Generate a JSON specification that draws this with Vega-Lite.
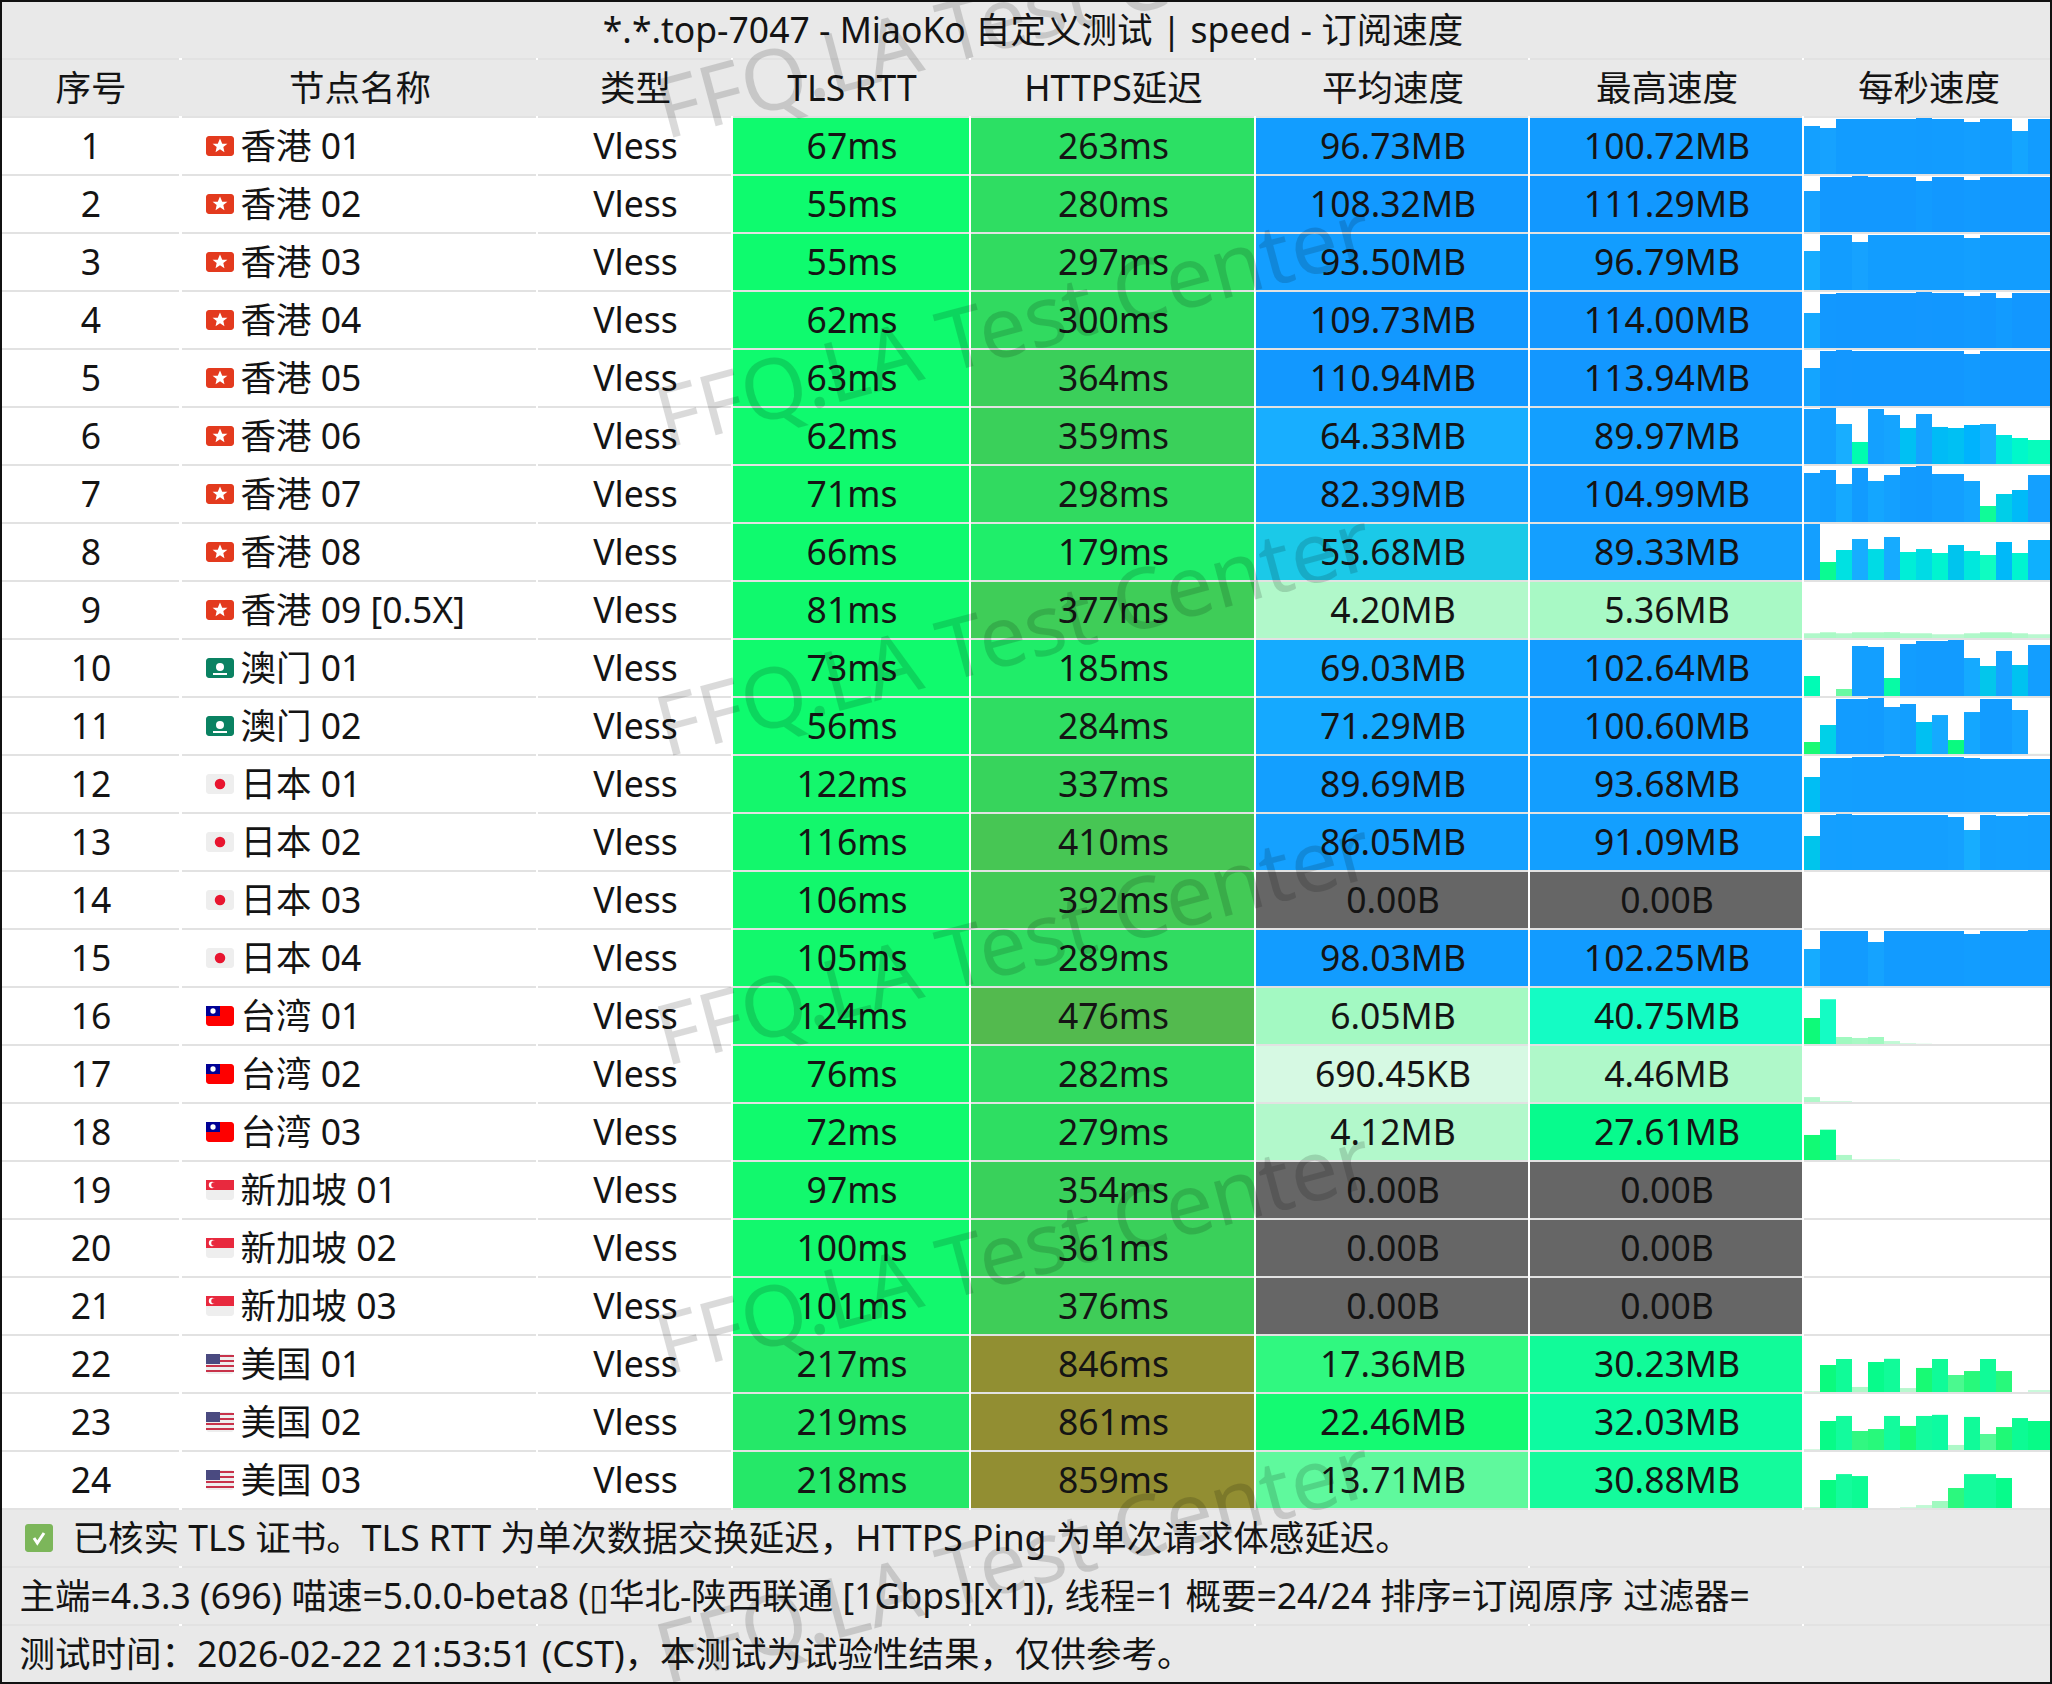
{
  "$schema": "https://vega.github.io/schema/vega-lite/v6.json",
  "description": "MiaoKo speed test table for 24 nodes, with a per-second bar strip for each node.",
  "width": 2052,
  "height": 1684,
  "padding": 0,
  "autosize": {"type": "none"},
  "background": "white",
  "config": {
    "view": {"stroke": null},
    "text": {"font": "Noto Sans, Noto Sans CJK SC", "fontSize": 35.5, "color": "#141414", "dy": 2, "dx": 1}
  },
  "datasets": {
    "table": [
      {"row": "title", "title": "*.*.top-7047 - MiaoKo 自定义测试 | speed - 订阅速度"},
      {"row": "header", "no": "序号", "nameText": "节点名称", "typeText": "类型", "tlsText": "TLS RTT", "httpsText": "HTTPS延迟", "avgText": "平均速度", "maxText": "最高速度", "perSec": "每秒速度"},
      {"row": "1", "no": "1", "country": "HK", "nameText": "香港 01", "typeText": "Vless", "tls": 67, "tlsText": "67ms", "https": 263, "httpsText": "263ms", "avg": 96.73, "avgText": "96.73MB", "max": 100.72, "maxText": "100.72MB"},
      {"row": "2", "no": "2", "country": "HK", "nameText": "香港 02", "typeText": "Vless", "tls": 55, "tlsText": "55ms", "https": 280, "httpsText": "280ms", "avg": 108.32, "avgText": "108.32MB", "max": 111.29, "maxText": "111.29MB"},
      {"row": "3", "no": "3", "country": "HK", "nameText": "香港 03", "typeText": "Vless", "tls": 55, "tlsText": "55ms", "https": 297, "httpsText": "297ms", "avg": 93.5, "avgText": "93.50MB", "max": 96.79, "maxText": "96.79MB"},
      {"row": "4", "no": "4", "country": "HK", "nameText": "香港 04", "typeText": "Vless", "tls": 62, "tlsText": "62ms", "https": 300, "httpsText": "300ms", "avg": 109.73, "avgText": "109.73MB", "max": 114, "maxText": "114.00MB"},
      {"row": "5", "no": "5", "country": "HK", "nameText": "香港 05", "typeText": "Vless", "tls": 63, "tlsText": "63ms", "https": 364, "httpsText": "364ms", "avg": 110.94, "avgText": "110.94MB", "max": 113.94, "maxText": "113.94MB"},
      {"row": "6", "no": "6", "country": "HK", "nameText": "香港 06", "typeText": "Vless", "tls": 62, "tlsText": "62ms", "https": 359, "httpsText": "359ms", "avg": 64.33, "avgText": "64.33MB", "max": 89.97, "maxText": "89.97MB"},
      {"row": "7", "no": "7", "country": "HK", "nameText": "香港 07", "typeText": "Vless", "tls": 71, "tlsText": "71ms", "https": 298, "httpsText": "298ms", "avg": 82.39, "avgText": "82.39MB", "max": 104.99, "maxText": "104.99MB"},
      {"row": "8", "no": "8", "country": "HK", "nameText": "香港 08", "typeText": "Vless", "tls": 66, "tlsText": "66ms", "https": 179, "httpsText": "179ms", "avg": 53.68, "avgText": "53.68MB", "max": 89.33, "maxText": "89.33MB"},
      {"row": "9", "no": "9", "country": "HK", "nameText": "香港 09 [0.5X]", "typeText": "Vless", "tls": 81, "tlsText": "81ms", "https": 377, "httpsText": "377ms", "avg": 4.2, "avgText": "4.20MB", "max": 5.36, "maxText": "5.36MB"},
      {"row": "10", "no": "10", "country": "MO", "nameText": "澳门 01", "typeText": "Vless", "tls": 73, "tlsText": "73ms", "https": 185, "httpsText": "185ms", "avg": 69.03, "avgText": "69.03MB", "max": 102.64, "maxText": "102.64MB"},
      {"row": "11", "no": "11", "country": "MO", "nameText": "澳门 02", "typeText": "Vless", "tls": 56, "tlsText": "56ms", "https": 284, "httpsText": "284ms", "avg": 71.29, "avgText": "71.29MB", "max": 100.6, "maxText": "100.60MB"},
      {"row": "12", "no": "12", "country": "JP", "nameText": "日本 01", "typeText": "Vless", "tls": 122, "tlsText": "122ms", "https": 337, "httpsText": "337ms", "avg": 89.69, "avgText": "89.69MB", "max": 93.68, "maxText": "93.68MB"},
      {"row": "13", "no": "13", "country": "JP", "nameText": "日本 02", "typeText": "Vless", "tls": 116, "tlsText": "116ms", "https": 410, "httpsText": "410ms", "avg": 86.05, "avgText": "86.05MB", "max": 91.09, "maxText": "91.09MB"},
      {"row": "14", "no": "14", "country": "JP", "nameText": "日本 03", "typeText": "Vless", "tls": 106, "tlsText": "106ms", "https": 392, "httpsText": "392ms", "avg": 0, "avgText": "0.00B", "max": 0, "maxText": "0.00B"},
      {"row": "15", "no": "15", "country": "JP", "nameText": "日本 04", "typeText": "Vless", "tls": 105, "tlsText": "105ms", "https": 289, "httpsText": "289ms", "avg": 98.03, "avgText": "98.03MB", "max": 102.25, "maxText": "102.25MB"},
      {"row": "16", "no": "16", "country": "TW", "nameText": "台湾 01", "typeText": "Vless", "tls": 124, "tlsText": "124ms", "https": 476, "httpsText": "476ms", "avg": 6.05, "avgText": "6.05MB", "max": 40.75, "maxText": "40.75MB"},
      {"row": "17", "no": "17", "country": "TW", "nameText": "台湾 02", "typeText": "Vless", "tls": 76, "tlsText": "76ms", "https": 282, "httpsText": "282ms", "avg": 0.67, "avgText": "690.45KB", "max": 4.46, "maxText": "4.46MB"},
      {"row": "18", "no": "18", "country": "TW", "nameText": "台湾 03", "typeText": "Vless", "tls": 72, "tlsText": "72ms", "https": 279, "httpsText": "279ms", "avg": 4.12, "avgText": "4.12MB", "max": 27.61, "maxText": "27.61MB"},
      {"row": "19", "no": "19", "country": "SG", "nameText": "新加坡 01", "typeText": "Vless", "tls": 97, "tlsText": "97ms", "https": 354, "httpsText": "354ms", "avg": 0, "avgText": "0.00B", "max": 0, "maxText": "0.00B"},
      {"row": "20", "no": "20", "country": "SG", "nameText": "新加坡 02", "typeText": "Vless", "tls": 100, "tlsText": "100ms", "https": 361, "httpsText": "361ms", "avg": 0, "avgText": "0.00B", "max": 0, "maxText": "0.00B"},
      {"row": "21", "no": "21", "country": "SG", "nameText": "新加坡 03", "typeText": "Vless", "tls": 101, "tlsText": "101ms", "https": 376, "httpsText": "376ms", "avg": 0, "avgText": "0.00B", "max": 0, "maxText": "0.00B"},
      {"row": "22", "no": "22", "country": "US", "nameText": "美国 01", "typeText": "Vless", "tls": 217, "tlsText": "217ms", "https": 846, "httpsText": "846ms", "avg": 17.36, "avgText": "17.36MB", "max": 30.23, "maxText": "30.23MB"},
      {"row": "23", "no": "23", "country": "US", "nameText": "美国 02", "typeText": "Vless", "tls": 219, "tlsText": "219ms", "https": 861, "httpsText": "861ms", "avg": 22.46, "avgText": "22.46MB", "max": 32.03, "maxText": "32.03MB"},
      {"row": "24", "no": "24", "country": "US", "nameText": "美国 03", "typeText": "Vless", "tls": 218, "tlsText": "218ms", "https": 859, "httpsText": "859ms", "avg": 13.71, "avgText": "13.71MB", "max": 30.88, "maxText": "30.88MB"},
      {"row": "f1", "check": true, "foot1": "已核实 TLS 证书。TLS RTT 为单次数据交换延迟，HTTPS Ping 为单次请求体感延迟。"},
      {"row": "f2", "foot": "主端=4.3.3 (696) 喵速=5.0.0-beta8 (▯华北-陕西联通 [1Gbps][x1]), 线程=1 概要=24/24 排序=订阅原序 过滤器="},
      {"row": "f3", "foot": "测试时间：2026-02-22 21:53:51 (CST)，本测试为试验性结果，仅供参考。"}
    ],
    "bars": [
      {"row":"1","sec":1,"speed":86.3},{"row":"1","sec":2,"speed":82.7},{"row":"1","sec":3,"speed":98.9},{"row":"1","sec":4,"speed":98.9},{"row":"1","sec":5,"speed":98.9},{"row":"1","sec":6,"speed":98.9},{"row":"1","sec":7,"speed":98.9},{"row":"1","sec":8,"speed":100.7},{"row":"1","sec":9,"speed":98.9},{"row":"1","sec":10,"speed":98.9},{"row":"1","sec":11,"speed":93.5},{"row":"1","sec":12,"speed":98.9},{"row":"1","sec":13,"speed":98.9},{"row":"1","sec":14,"speed":77.3},{"row":"1","sec":15,"speed":98.9},{"row":"1","sec":16,"speed":98.9},
      {"row":"2","sec":1,"speed":81.5},{"row":"2","sec":2,"speed":109.3},{"row":"2","sec":3,"speed":109.3},{"row":"2","sec":4,"speed":111.3},{"row":"2","sec":5,"speed":109.3},{"row":"2","sec":6,"speed":109.3},{"row":"2","sec":7,"speed":109.3},{"row":"2","sec":8,"speed":101.3},{"row":"2","sec":9,"speed":109.3},{"row":"2","sec":10,"speed":109.3},{"row":"2","sec":11,"speed":103.3},{"row":"2","sec":12,"speed":109.3},{"row":"2","sec":13,"speed":109.3},{"row":"2","sec":14,"speed":109.3},{"row":"2","sec":15,"speed":109.3},{"row":"2","sec":16,"speed":109.3},
      {"row":"3","sec":1,"speed":67.4},{"row":"3","sec":2,"speed":95.1},{"row":"3","sec":3,"speed":95.1},{"row":"3","sec":4,"speed":83},{"row":"3","sec":5,"speed":95.1},{"row":"3","sec":6,"speed":95.1},{"row":"3","sec":7,"speed":95.1},{"row":"3","sec":8,"speed":95.1},{"row":"3","sec":9,"speed":95.1},{"row":"3","sec":10,"speed":95.1},{"row":"3","sec":11,"speed":89.9},{"row":"3","sec":12,"speed":95.1},{"row":"3","sec":13,"speed":95.1},{"row":"3","sec":14,"speed":95.1},{"row":"3","sec":15,"speed":95.1},{"row":"3","sec":16,"speed":95.1},
      {"row":"4","sec":1,"speed":71.3},{"row":"4","sec":2,"speed":109.9},{"row":"4","sec":3,"speed":112},{"row":"4","sec":4,"speed":112},{"row":"4","sec":5,"speed":112},{"row":"4","sec":6,"speed":112},{"row":"4","sec":7,"speed":112},{"row":"4","sec":8,"speed":114},{"row":"4","sec":9,"speed":112},{"row":"4","sec":10,"speed":112},{"row":"4","sec":11,"speed":105.9},{"row":"4","sec":12,"speed":112},{"row":"4","sec":13,"speed":101.8},{"row":"4","sec":14,"speed":112},{"row":"4","sec":15,"speed":112},{"row":"4","sec":16,"speed":112},
      {"row":"5","sec":1,"speed":77.3},{"row":"5","sec":2,"speed":111.9},{"row":"5","sec":3,"speed":113.9},{"row":"5","sec":4,"speed":111.9},{"row":"5","sec":5,"speed":111.9},{"row":"5","sec":6,"speed":111.9},{"row":"5","sec":7,"speed":111.9},{"row":"5","sec":8,"speed":111.9},{"row":"5","sec":9,"speed":111.9},{"row":"5","sec":10,"speed":111.9},{"row":"5","sec":11,"speed":105.8},{"row":"5","sec":12,"speed":111.9},{"row":"5","sec":13,"speed":111.9},{"row":"5","sec":14,"speed":111.9},{"row":"5","sec":15,"speed":111.9},{"row":"5","sec":16,"speed":111.9},
      {"row":"6","sec":1,"speed":88.4},{"row":"6","sec":2,"speed":90},{"row":"6","sec":3,"speed":64.3},{"row":"6","sec":4,"speed":35.4},{"row":"6","sec":5,"speed":88.4},{"row":"6","sec":6,"speed":78.7},{"row":"6","sec":7,"speed":57.8},{"row":"6","sec":8,"speed":80.3},{"row":"6","sec":9,"speed":59.5},{"row":"6","sec":10,"speed":57.8},{"row":"6","sec":11,"speed":62.7},{"row":"6","sec":12,"speed":64.3},{"row":"6","sec":13,"speed":46.6},{"row":"6","sec":14,"speed":41.8},{"row":"6","sec":15,"speed":38.6},{"row":"6","sec":16,"speed":38.6},
      {"row":"7","sec":1,"speed":91.9},{"row":"7","sec":2,"speed":97.5},{"row":"7","sec":3,"speed":71.3},{"row":"7","sec":4,"speed":101.3},{"row":"7","sec":5,"speed":76.9},{"row":"7","sec":6,"speed":88.1},{"row":"7","sec":7,"speed":103.1},{"row":"7","sec":8,"speed":105},{"row":"7","sec":9,"speed":90},{"row":"7","sec":10,"speed":90},{"row":"7","sec":11,"speed":76.9},{"row":"7","sec":12,"speed":30},{"row":"7","sec":13,"speed":52.5},{"row":"7","sec":14,"speed":60},{"row":"7","sec":15,"speed":88.1},{"row":"7","sec":16,"speed":88.1},
      {"row":"8","sec":1,"speed":89.3},{"row":"8","sec":2,"speed":28.7},{"row":"8","sec":3,"speed":47.9},{"row":"8","sec":4,"speed":65.4},{"row":"8","sec":5,"speed":49.4},{"row":"8","sec":6,"speed":68.6},{"row":"8","sec":7,"speed":44.7},{"row":"8","sec":8,"speed":49.4},{"row":"8","sec":9,"speed":43.1},{"row":"8","sec":10,"speed":55.8},{"row":"8","sec":11,"speed":46.3},{"row":"8","sec":12,"speed":39.9},{"row":"8","sec":13,"speed":60.6},{"row":"8","sec":14,"speed":43.1},{"row":"8","sec":15,"speed":63.8},{"row":"8","sec":16,"speed":63.8},
      {"row":"9","sec":1,"speed":4.3},{"row":"9","sec":2,"speed":5.2},{"row":"9","sec":3,"speed":4.3},{"row":"9","sec":4,"speed":5.2},{"row":"9","sec":5,"speed":5.2},{"row":"9","sec":6,"speed":5.36},{"row":"9","sec":7,"speed":4.3},{"row":"9","sec":8,"speed":4.3},{"row":"9","sec":9,"speed":3.4},{"row":"9","sec":10,"speed":3.4},{"row":"9","sec":11,"speed":4.3},{"row":"9","sec":12,"speed":5.2},{"row":"9","sec":13,"speed":5.2},{"row":"9","sec":14,"speed":4.3},{"row":"9","sec":15,"speed":3.4},{"row":"9","sec":16,"speed":3.4},
      {"row":"10","sec":1,"speed":36.7},{"row":"10","sec":3,"speed":12.8},{"row":"10","sec":4,"speed":91.7},{"row":"10","sec":5,"speed":89.8},{"row":"10","sec":6,"speed":33},{"row":"10","sec":7,"speed":95.3},{"row":"10","sec":8,"speed":100.8},{"row":"10","sec":9,"speed":100.8},{"row":"10","sec":10,"speed":102.6},{"row":"10","sec":11,"speed":69.7},{"row":"10","sec":12,"speed":55},{"row":"10","sec":13,"speed":82.5},{"row":"10","sec":14,"speed":56.8},{"row":"10","sec":15,"speed":93.5},{"row":"10","sec":16,"speed":93.5},
      {"row":"11","sec":1,"speed":21.6},{"row":"11","sec":2,"speed":52.1},{"row":"11","sec":3,"speed":98.8},{"row":"11","sec":4,"speed":98.8},{"row":"11","sec":5,"speed":100.6},{"row":"11","sec":6,"speed":84.4},{"row":"11","sec":7,"speed":89.8},{"row":"11","sec":8,"speed":57.5},{"row":"11","sec":9,"speed":70},{"row":"11","sec":10,"speed":25.1},{"row":"11","sec":11,"speed":75.4},{"row":"11","sec":12,"speed":98.8},{"row":"11","sec":13,"speed":98.8},{"row":"11","sec":14,"speed":79},{"row":"11","sec":15,"speed":0.5},{"row":"11","sec":16,"speed":0.5},
      {"row":"12","sec":1,"speed":58.6},{"row":"12","sec":2,"speed":90.3},{"row":"12","sec":3,"speed":90.3},{"row":"12","sec":4,"speed":92},{"row":"12","sec":5,"speed":92},{"row":"12","sec":6,"speed":93.7},{"row":"12","sec":7,"speed":92},{"row":"12","sec":8,"speed":92},{"row":"12","sec":9,"speed":92},{"row":"12","sec":10,"speed":92},{"row":"12","sec":11,"speed":90.3},{"row":"12","sec":12,"speed":88.7},{"row":"12","sec":13,"speed":88.7},{"row":"12","sec":14,"speed":88.7},{"row":"12","sec":15,"speed":88.7},{"row":"12","sec":16,"speed":88.7},
      {"row":"13","sec":1,"speed":55.3},{"row":"13","sec":2,"speed":89.5},{"row":"13","sec":3,"speed":91.1},{"row":"13","sec":4,"speed":89.5},{"row":"13","sec":5,"speed":89.5},{"row":"13","sec":6,"speed":89.5},{"row":"13","sec":7,"speed":89.5},{"row":"13","sec":8,"speed":89.5},{"row":"13","sec":9,"speed":89.5},{"row":"13","sec":10,"speed":86.2},{"row":"13","sec":11,"speed":65.1},{"row":"13","sec":12,"speed":89.5},{"row":"13","sec":13,"speed":87.9},{"row":"13","sec":14,"speed":87.9},{"row":"13","sec":15,"speed":89.5},{"row":"13","sec":16,"speed":89.5},
      {"row":"15","sec":1,"speed":67.6},{"row":"15","sec":2,"speed":100.4},{"row":"15","sec":3,"speed":100.4},{"row":"15","sec":4,"speed":100.4},{"row":"15","sec":5,"speed":80.3},{"row":"15","sec":6,"speed":100.4},{"row":"15","sec":7,"speed":100.4},{"row":"15","sec":8,"speed":100.4},{"row":"15","sec":9,"speed":100.4},{"row":"15","sec":10,"speed":100.4},{"row":"15","sec":11,"speed":95},{"row":"15","sec":12,"speed":100.4},{"row":"15","sec":13,"speed":100.4},{"row":"15","sec":14,"speed":100.4},{"row":"15","sec":15,"speed":102.25},{"row":"15","sec":16,"speed":102.25},
      {"row":"16","sec":1,"speed":23.7},{"row":"16","sec":2,"speed":40.75},{"row":"16","sec":3,"speed":6.4},{"row":"16","sec":4,"speed":5.5},{"row":"16","sec":5,"speed":6.4},{"row":"16","sec":6,"speed":2.7},{"row":"16","sec":7,"speed":0.9},{"row":"16","sec":8,"speed":0.4},
      {"row":"17","sec":1,"speed":4.46},{"row":"17","sec":2,"speed":0.9},{"row":"17","sec":3,"speed":0.9},
      {"row":"18","sec":1,"speed":22.8},{"row":"18","sec":2,"speed":27.61},{"row":"18","sec":3,"speed":4.6},{"row":"18","sec":4,"speed":0.9},{"row":"18","sec":5,"speed":0.9},{"row":"18","sec":6,"speed":0.9},
      {"row":"22","sec":1,"speed":0.9},{"row":"22","sec":2,"speed":24.6},{"row":"22","sec":3,"speed":30.05},{"row":"22","sec":4,"speed":4.6},{"row":"22","sec":5,"speed":27.3},{"row":"22","sec":6,"speed":30.23},{"row":"22","sec":7,"speed":3.6},{"row":"22","sec":8,"speed":21.9},{"row":"22","sec":9,"speed":30.05},{"row":"22","sec":10,"speed":15.5},{"row":"22","sec":11,"speed":19.1},{"row":"22","sec":12,"speed":30.05},{"row":"22","sec":13,"speed":19.1},{"row":"22","sec":15,"speed":1.8},{"row":"22","sec":16,"speed":1.8},
      {"row":"23","sec":1,"speed":0.9},{"row":"23","sec":2,"speed":26.4},{"row":"23","sec":3,"speed":31},{"row":"23","sec":4,"speed":17.3},{"row":"23","sec":5,"speed":19.1},{"row":"23","sec":6,"speed":31},{"row":"23","sec":7,"speed":21.9},{"row":"23","sec":8,"speed":31},{"row":"23","sec":9,"speed":32.03},{"row":"23","sec":10,"speed":4.6},{"row":"23","sec":11,"speed":30.1},{"row":"23","sec":12,"speed":14.6},{"row":"23","sec":13,"speed":20.9},{"row":"23","sec":14,"speed":29.1},{"row":"23","sec":15,"speed":26.4},{"row":"23","sec":16,"speed":26.4},
      {"row":"24","sec":1,"speed":0.9},{"row":"24","sec":2,"speed":25.5},{"row":"24","sec":3,"speed":30.88},{"row":"24","sec":4,"speed":29.1},{"row":"24","sec":7,"speed":0.9},{"row":"24","sec":8,"speed":2.7},{"row":"24","sec":9,"speed":6.4},{"row":"24","sec":10,"speed":18.2},{"row":"24","sec":11,"speed":30.88},{"row":"24","sec":12,"speed":30.88},{"row":"24","sec":13,"speed":27.3}
    ],
    "watermark": [
      {"line": 1, "mark": "FFQ.LA Test Center"},
      {"line": 2, "mark": "FFQ.LA Test Center"},
      {"line": 3, "mark": "FFQ.LA Test Center"},
      {"line": 4, "mark": "FFQ.LA Test Center"},
      {"line": 5, "mark": "FFQ.LA Test Center"},
      {"line": 6, "mark": "FFQ.LA Test Center"}
    ]
  },
  "data": {"name": "table"},
  "encoding": {
    "y": {
      "field": "row",
      "type": "nominal",
      "axis": null,
      "scale": {
        "type": "band",
        "domain": ["title","header","1","2","3","4","5","6","7","8","9","10","11","12","13","14","15","16","17","18","19","20","21","22","23","24","f1","f2","f3"],
        "range": [2, 1682],
        "paddingInner": 0.0345,
        "paddingOuter": 0
      }
    }
  },
  "resolve": {"scale": {"x": "independent", "y": "independent", "color": "independent"}},
  "layer": [
    {"mark": {"type": "rect", "height": 58, "yOffset": 1, "color": "#e2e2e2"}, "encoding": {"x": {"datum": "a", "type": "nominal", "axis": null, "scale": {"type": "band", "domain": ["a"], "range": [0, 179], "padding": 0}}}},
    {"mark": {"type": "rect", "height": 58, "yOffset": 1, "color": "#e2e2e2"}, "encoding": {"x": {"datum": "a", "type": "nominal", "axis": null, "scale": {"type": "band", "domain": ["a"], "range": [182, 536], "padding": 0}}}},
    {"mark": {"type": "rect", "height": 58, "yOffset": 1, "color": "#e2e2e2"}, "encoding": {"x": {"datum": "a", "type": "nominal", "axis": null, "scale": {"type": "band", "domain": ["a"], "range": [538, 731], "padding": 0}}}},
    {"mark": {"type": "rect", "height": 58, "yOffset": 1, "color": "#e2e2e2"}, "encoding": {"x": {"datum": "a", "type": "nominal", "axis": null, "scale": {"type": "band", "domain": ["a"], "range": [733, 969], "padding": 0}}}},
    {"mark": {"type": "rect", "height": 58, "yOffset": 1, "color": "#e2e2e2"}, "encoding": {"x": {"datum": "a", "type": "nominal", "axis": null, "scale": {"type": "band", "domain": ["a"], "range": [971, 1254], "padding": 0}}}},
    {"mark": {"type": "rect", "height": 58, "yOffset": 1, "color": "#e2e2e2"}, "encoding": {"x": {"datum": "a", "type": "nominal", "axis": null, "scale": {"type": "band", "domain": ["a"], "range": [1256, 1528], "padding": 0}}}},
    {"mark": {"type": "rect", "height": 58, "yOffset": 1, "color": "#e2e2e2"}, "encoding": {"x": {"datum": "a", "type": "nominal", "axis": null, "scale": {"type": "band", "domain": ["a"], "range": [1530, 1802], "padding": 0}}}},
    {"mark": {"type": "rect", "height": 58, "yOffset": 1, "color": "#e2e2e2"}, "encoding": {"x": {"datum": "a", "type": "nominal", "axis": null, "scale": {"type": "band", "domain": ["a"], "range": [1804, 2052], "padding": 0}}}},
    {
      "transform": [{"filter": "!isValid(datum.tls)"}],
      "mark": {"type": "rect", "color": "#e9e9e9"},
      "encoding": {"x": {"datum": "a", "type": "nominal", "axis": null, "scale": {"type": "band", "domain": ["a"], "range": [0, 2052], "padding": 0}}}
    },
    {
      "transform": [{"filter": "isValid(datum.tls)"}],
      "mark": {"type": "rect", "color": "white"},
      "encoding": {"x": {"datum": "a", "type": "nominal", "axis": null, "scale": {"type": "band", "domain": ["a"], "range": [0, 2052], "padding": 0}}}
    },
    {
      "transform": [{"filter": "isValid(datum.tls)"}],
      "mark": {"type": "rect"},
      "encoding": {
        "x": {"datum": "a", "type": "nominal", "axis": null, "scale": {"type": "band", "domain": ["a"], "range": [733, 969], "padding": 0}},
        "color": {"field": "tls", "type": "quantitative", "legend": null, "scale": {"domain": [50, 120, 220, 300, 360, 476, 850], "range": ["#0efb6e", "#13f76c", "#25e868", "#31da60", "#3ad05a", "#53ba4e", "#918f32"]}}
      }
    },
    {
      "transform": [{"filter": "isValid(datum.https)"}],
      "mark": {"type": "rect"},
      "encoding": {
        "x": {"datum": "a", "type": "nominal", "axis": null, "scale": {"type": "band", "domain": ["a"], "range": [971, 1254], "padding": 0}},
        "color": {"field": "https", "type": "quantitative", "legend": null, "scale": {"domain": [50, 120, 220, 300, 360, 476, 850], "range": ["#0efb6e", "#13f76c", "#25e868", "#31da60", "#3ad05a", "#53ba4e", "#918f32"]}}
      }
    },
    {
      "transform": [{"filter": "isValid(datum.avg)"}],
      "mark": {"type": "rect"},
      "encoding": {
        "x": {"datum": "a", "type": "nominal", "axis": null, "scale": {"type": "band", "domain": ["a"], "range": [1256, 1528], "padding": 0}},
        "color": {"field": "avg", "type": "quantitative", "legend": null, "scale": {"domain": [0, 0.001, 0.67, 4.2, 6.05, 13.71, 17.36, 22.46, 30.88, 40.75, 53.68, 64.33, 82, 110], "range": ["#666666", "#e0fbe9", "#d6f9e3", "#b1f8ca", "#a3f9c2", "#5ff99d", "#30f880", "#14fa72", "#14fb9c", "#14fcc4", "#1bc9e8", "#18aeff", "#16a2ff", "#1298ff"]}}
      }
    },
    {
      "transform": [{"filter": "isValid(datum.max)"}],
      "mark": {"type": "rect"},
      "encoding": {
        "x": {"datum": "a", "type": "nominal", "axis": null, "scale": {"type": "band", "domain": ["a"], "range": [1530, 1802], "padding": 0}},
        "color": {"field": "max", "type": "quantitative", "legend": null, "scale": {"domain": [0, 0.001, 0.67, 4.2, 6.05, 13.71, 17.36, 22.46, 30.88, 40.75, 53.68, 64.33, 82, 110], "range": ["#666666", "#e0fbe9", "#d6f9e3", "#b1f8ca", "#a3f9c2", "#5ff99d", "#30f880", "#14fa72", "#14fb9c", "#14fcc4", "#1bc9e8", "#18aeff", "#16a2ff", "#1298ff"]}}
      }
    },
    {
      "data": {"name": "bars"},
      "encoding": {
        "x": {"field": "sec", "type": "ordinal", "axis": null, "scale": {"type": "band", "domain": [1,2,3,4,5,6,7,8,9,10,11,12,13,14,15,16], "range": [1804, 2060], "padding": 0}},
        "color": {"field": "speed", "type": "quantitative", "legend": null, "scale": {"domain": [0, 0.001, 0.67, 4.2, 6.05, 13.71, 17.36, 22.46, 30.88, 40.75, 53.68, 64.33, 82, 110], "range": ["#666666", "#e0fbe9", "#d6f9e3", "#b1f8ca", "#a3f9c2", "#5ff99d", "#30f880", "#14fa72", "#14fb9c", "#14fcc4", "#1bc9e8", "#18aeff", "#16a2ff", "#1298ff"]}}
      },
      "resolve": {"scale": {"y": "independent"}},
      "layer": [
        {"transform": [{"filter": "datum.row == '1'"}], "mark": {"type": "bar", "clip": true}, "encoding": {"y": {"field": "speed", "type": "quantitative", "stack": null, "axis": null, "scale": {"domain": [0, 100.72], "range": [174, 118]}}}},
        {"transform": [{"filter": "datum.row == '2'"}], "mark": {"type": "bar", "clip": true}, "encoding": {"y": {"field": "speed", "type": "quantitative", "stack": null, "axis": null, "scale": {"domain": [0, 111.29], "range": [232, 176]}}}},
        {"transform": [{"filter": "datum.row == '3'"}], "mark": {"type": "bar", "clip": true}, "encoding": {"y": {"field": "speed", "type": "quantitative", "stack": null, "axis": null, "scale": {"domain": [0, 96.79], "range": [290, 234]}}}},
        {"transform": [{"filter": "datum.row == '4'"}], "mark": {"type": "bar", "clip": true}, "encoding": {"y": {"field": "speed", "type": "quantitative", "stack": null, "axis": null, "scale": {"domain": [0, 114], "range": [348, 292]}}}},
        {"transform": [{"filter": "datum.row == '5'"}], "mark": {"type": "bar", "clip": true}, "encoding": {"y": {"field": "speed", "type": "quantitative", "stack": null, "axis": null, "scale": {"domain": [0, 113.94], "range": [406, 350]}}}},
        {"transform": [{"filter": "datum.row == '6'"}], "mark": {"type": "bar", "clip": true}, "encoding": {"y": {"field": "speed", "type": "quantitative", "stack": null, "axis": null, "scale": {"domain": [0, 89.97], "range": [464, 408]}}}},
        {"transform": [{"filter": "datum.row == '7'"}], "mark": {"type": "bar", "clip": true}, "encoding": {"y": {"field": "speed", "type": "quantitative", "stack": null, "axis": null, "scale": {"domain": [0, 104.99], "range": [522, 466]}}}},
        {"transform": [{"filter": "datum.row == '8'"}], "mark": {"type": "bar", "clip": true}, "encoding": {"y": {"field": "speed", "type": "quantitative", "stack": null, "axis": null, "scale": {"domain": [0, 89.33], "range": [580, 524]}}}},
        {"transform": [{"filter": "datum.row == '9'"}], "mark": {"type": "bar", "clip": true}, "encoding": {"y": {"field": "speed", "type": "quantitative", "stack": null, "axis": null, "scale": {"domain": [0, 51], "range": [638, 582]}}}},
        {"transform": [{"filter": "datum.row == '10'"}], "mark": {"type": "bar", "clip": true}, "encoding": {"y": {"field": "speed", "type": "quantitative", "stack": null, "axis": null, "scale": {"domain": [0, 102.64], "range": [696, 640]}}}},
        {"transform": [{"filter": "datum.row == '11'"}], "mark": {"type": "bar", "clip": true}, "encoding": {"y": {"field": "speed", "type": "quantitative", "stack": null, "axis": null, "scale": {"domain": [0, 100.6], "range": [754, 698]}}}},
        {"transform": [{"filter": "datum.row == '12'"}], "mark": {"type": "bar", "clip": true}, "encoding": {"y": {"field": "speed", "type": "quantitative", "stack": null, "axis": null, "scale": {"domain": [0, 93.68], "range": [812, 756]}}}},
        {"transform": [{"filter": "datum.row == '13'"}], "mark": {"type": "bar", "clip": true}, "encoding": {"y": {"field": "speed", "type": "quantitative", "stack": null, "axis": null, "scale": {"domain": [0, 91.09], "range": [870, 814]}}}},
        {"transform": [{"filter": "datum.row == '15'"}], "mark": {"type": "bar", "clip": true}, "encoding": {"y": {"field": "speed", "type": "quantitative", "stack": null, "axis": null, "scale": {"domain": [0, 102.25], "range": [986, 930]}}}},
        {"transform": [{"filter": "datum.row == '16'"}], "mark": {"type": "bar", "clip": true}, "encoding": {"y": {"field": "speed", "type": "quantitative", "stack": null, "axis": null, "scale": {"domain": [0, 51], "range": [1044, 988]}}}},
        {"transform": [{"filter": "datum.row == '17'"}], "mark": {"type": "bar", "clip": true}, "encoding": {"y": {"field": "speed", "type": "quantitative", "stack": null, "axis": null, "scale": {"domain": [0, 51], "range": [1102, 1046]}}}},
        {"transform": [{"filter": "datum.row == '18'"}], "mark": {"type": "bar", "clip": true}, "encoding": {"y": {"field": "speed", "type": "quantitative", "stack": null, "axis": null, "scale": {"domain": [0, 51], "range": [1160, 1104]}}}},
        {"transform": [{"filter": "datum.row == '22'"}], "mark": {"type": "bar", "clip": true}, "encoding": {"y": {"field": "speed", "type": "quantitative", "stack": null, "axis": null, "scale": {"domain": [0, 51], "range": [1392, 1336]}}}},
        {"transform": [{"filter": "datum.row == '23'"}], "mark": {"type": "bar", "clip": true}, "encoding": {"y": {"field": "speed", "type": "quantitative", "stack": null, "axis": null, "scale": {"domain": [0, 51], "range": [1450, 1394]}}}},
        {"transform": [{"filter": "datum.row == '24'"}], "mark": {"type": "bar", "clip": true}, "encoding": {"y": {"field": "speed", "type": "quantitative", "stack": null, "axis": null, "scale": {"domain": [0, 51], "range": [1508, 1452]}}}}
      ]
    },
    {
      "encoding": {"x": {"datum": "flag", "type": "nominal", "axis": null, "scale": {"type": "band", "domain": ["flag"], "range": [206, 234], "padding": 0}}},
      "layer": [
        {"transform": [{"filter": "datum.country == 'HK'"}], "mark": {"type": "rect", "height": 20, "cornerRadius": 3, "color": "#e33a1e"}},
        {"transform": [{"filter": "datum.country == 'HK'"}], "mark": {"type": "point", "filled": true, "opacity": 1, "color": "white", "size": 220, "shape": "M0,-1L0.3,-0.3L1,-0.3L0.45,0.15L0.6,0.85L0,0.45L-0.6,0.85L-0.45,0.15L-1,-0.3L-0.3,-0.3Z"}},
        {"transform": [{"filter": "datum.country == 'MO'"}], "mark": {"type": "rect", "height": 20, "cornerRadius": 3, "color": "#0a8262"}},
        {"transform": [{"filter": "datum.country == 'MO'"}], "mark": {"type": "point", "filled": true, "opacity": 1, "color": "white", "size": 64, "shape": "circle", "yOffset": -1}},
        {"transform": [{"filter": "datum.country == 'MO'"}], "mark": {"type": "rect", "height": 2, "width": 14, "yOffset": 6, "color": "white"}},
        {"transform": [{"filter": "datum.country == 'JP'"}], "mark": {"type": "rect", "height": 20, "cornerRadius": 3, "color": "#eeeeee"}},
        {"transform": [{"filter": "datum.country == 'JP'"}], "mark": {"type": "point", "filled": true, "opacity": 1, "color": "#e8152f", "size": 110, "shape": "circle"}},
        {"transform": [{"filter": "datum.country == 'TW'"}], "mark": {"type": "rect", "height": 20, "cornerRadius": 3, "color": "#fe0000"}},
        {"transform": [{"filter": "datum.country == 'TW'"}], "mark": {"type": "rect", "height": 10, "width": 14, "xOffset": -7, "yOffset": -5, "color": "#000095"}},
        {"transform": [{"filter": "datum.country == 'TW'"}], "mark": {"type": "point", "filled": true, "opacity": 1, "color": "white", "size": 28, "shape": "circle", "xOffset": -7, "yOffset": -5}},
        {"transform": [{"filter": "datum.country == 'SG'"}], "mark": {"type": "rect", "height": 20, "cornerRadius": 3, "color": "#eeeeee"}},
        {"transform": [{"filter": "datum.country == 'SG'"}], "mark": {"type": "rect", "height": 10, "yOffset": -5, "color": "#e8293e"}},
        {"transform": [{"filter": "datum.country == 'SG'"}], "mark": {"type": "point", "filled": true, "opacity": 1, "color": "white", "size": 40, "shape": "circle", "xOffset": -8, "yOffset": -5}},
        {"transform": [{"filter": "datum.country == 'SG'"}], "mark": {"type": "point", "filled": true, "opacity": 1, "color": "#e8293e", "size": 30, "shape": "circle", "xOffset": -6, "yOffset": -5}},
        {"transform": [{"filter": "datum.country == 'US'"}], "mark": {"type": "rect", "height": 20, "cornerRadius": 3, "color": "#eeeeee"}},
        {"transform": [{"filter": "datum.country == 'US'"}], "mark": {"type": "rect", "height": 2, "yOffset": -8, "color": "#c8324a"}},
        {"transform": [{"filter": "datum.country == 'US'"}], "mark": {"type": "rect", "height": 2, "yOffset": -3, "color": "#c8324a"}},
        {"transform": [{"filter": "datum.country == 'US'"}], "mark": {"type": "rect", "height": 2, "yOffset": 2, "color": "#c8324a"}},
        {"transform": [{"filter": "datum.country == 'US'"}], "mark": {"type": "rect", "height": 2, "yOffset": 7, "color": "#c8324a"}},
        {"transform": [{"filter": "datum.country == 'US'"}], "mark": {"type": "rect", "height": 10, "width": 14, "xOffset": -7, "yOffset": -5, "color": "#4a4a80"}}
      ]
    },
    {
      "transform": [{"filter": "isValid(datum.no)"}],
      "mark": {"type": "text"},
      "encoding": {"text": {"field": "no"}, "x": {"datum": "a", "type": "nominal", "axis": null, "scale": {"type": "band", "domain": ["a"], "range": [0, 180], "padding": 0}}}
    },
    {
      "transform": [{"filter": "datum.row == 'header'"}],
      "mark": {"type": "text"},
      "encoding": {"text": {"field": "nameText"}, "x": {"datum": "a", "type": "nominal", "axis": null, "scale": {"type": "band", "domain": ["a"], "range": [182, 536], "padding": 0}}}
    },
    {
      "transform": [{"filter": "isValid(datum.country)"}],
      "mark": {"type": "text", "align": "left"},
      "encoding": {"text": {"field": "nameText"}, "x": {"datum": "a", "type": "nominal", "axis": null, "scale": {"type": "band", "domain": ["a"], "range": [239, 240], "padding": 0}}}
    },
    {
      "transform": [{"filter": "isValid(datum.typeText)"}],
      "mark": {"type": "text"},
      "encoding": {"text": {"field": "typeText"}, "x": {"datum": "a", "type": "nominal", "axis": null, "scale": {"type": "band", "domain": ["a"], "range": [538, 731], "padding": 0}}}
    },
    {
      "transform": [{"filter": "isValid(datum.tlsText)"}],
      "mark": {"type": "text"},
      "encoding": {"text": {"field": "tlsText"}, "x": {"datum": "a", "type": "nominal", "axis": null, "scale": {"type": "band", "domain": ["a"], "range": [733, 969], "padding": 0}}}
    },
    {
      "transform": [{"filter": "isValid(datum.httpsText)"}],
      "mark": {"type": "text"},
      "encoding": {"text": {"field": "httpsText"}, "x": {"datum": "a", "type": "nominal", "axis": null, "scale": {"type": "band", "domain": ["a"], "range": [971, 1254], "padding": 0}}}
    },
    {
      "transform": [{"filter": "isValid(datum.avgText)"}],
      "mark": {"type": "text"},
      "encoding": {"text": {"field": "avgText"}, "x": {"datum": "a", "type": "nominal", "axis": null, "scale": {"type": "band", "domain": ["a"], "range": [1256, 1528], "padding": 0}}}
    },
    {
      "transform": [{"filter": "isValid(datum.maxText)"}],
      "mark": {"type": "text"},
      "encoding": {"text": {"field": "maxText"}, "x": {"datum": "a", "type": "nominal", "axis": null, "scale": {"type": "band", "domain": ["a"], "range": [1530, 1802], "padding": 0}}}
    },
    {
      "transform": [{"filter": "isValid(datum.perSec)"}],
      "mark": {"type": "text"},
      "encoding": {"text": {"field": "perSec"}, "x": {"datum": "a", "type": "nominal", "axis": null, "scale": {"type": "band", "domain": ["a"], "range": [1804, 2052], "padding": 0}}}
    },
    {
      "transform": [{"filter": "isValid(datum.title)"}],
      "mark": {"type": "text"},
      "encoding": {"text": {"field": "title"}, "x": {"datum": "a", "type": "nominal", "axis": null, "scale": {"type": "band", "domain": ["a"], "range": [0, 2064], "padding": 0}}}
    },
    {
      "transform": [{"filter": "datum.check === true"}],
      "mark": {"type": "rect", "height": 28, "cornerRadius": 3, "color": "#7cb65a"},
      "encoding": {"x": {"datum": "a", "type": "nominal", "axis": null, "scale": {"type": "band", "domain": ["a"], "range": [25, 53], "padding": 0}}}
    },
    {
      "transform": [{"filter": "datum.check === true"}],
      "mark": {"type": "point", "filled": false, "opacity": 1, "color": "white", "strokeWidth": 3, "size": 280, "shape": "M-0.6,0L-0.2,0.6L0.6,-0.6"},
      "encoding": {"x": {"datum": "a", "type": "nominal", "axis": null, "scale": {"type": "band", "domain": ["a"], "range": [25, 53], "padding": 0}}}
    },
    {
      "transform": [{"filter": "isValid(datum.foot1)"}],
      "mark": {"type": "text", "align": "left"},
      "encoding": {"text": {"field": "foot1"}, "x": {"datum": "a", "type": "nominal", "axis": null, "scale": {"type": "band", "domain": ["a"], "range": [71, 72], "padding": 0}}}
    },
    {
      "transform": [{"filter": "isValid(datum.foot)"}],
      "mark": {"type": "text", "align": "left"},
      "encoding": {"text": {"field": "foot"}, "x": {"datum": "a", "type": "nominal", "axis": null, "scale": {"type": "band", "domain": ["a"], "range": [18, 19], "padding": 0}}}
    },
    {
      "data": {"name": "watermark"},
      "mark": {"type": "text", "angle": -15, "fontSize": 84, "font": "Noto Sans", "color": "black", "opacity": 0.14, "dy": 0, "dx": 0, "clip": true},
      "encoding": {
        "text": {"field": "mark"},
        "x": {"datum": "a", "type": "nominal", "axis": null, "scale": {"type": "band", "domain": ["a"], "range": [1010, 1020], "padding": 0}},
        "y": {"field": "line", "type": "ordinal", "axis": null, "scale": {"type": "band", "domain": [1, 2, 3, 4, 5, 6], "range": [-134.5, 1719.5], "padding": 0}}
      }
    },
    {
      "data": {"values": [{"row": "frame"}]},
      "mark": {"type": "rect", "filled": false, "stroke": "#111111", "strokeWidth": 4, "clip": true},
      "encoding": {
        "x": {"datum": "a", "type": "nominal", "axis": null, "scale": {"type": "band", "domain": ["a"], "range": [0, 2052], "padding": 0}},
        "y": {"field": "row", "type": "nominal", "axis": null, "scale": {"type": "band", "domain": ["frame"], "range": [0, 1684], "padding": 0}}
      }
    }
  ]
}
